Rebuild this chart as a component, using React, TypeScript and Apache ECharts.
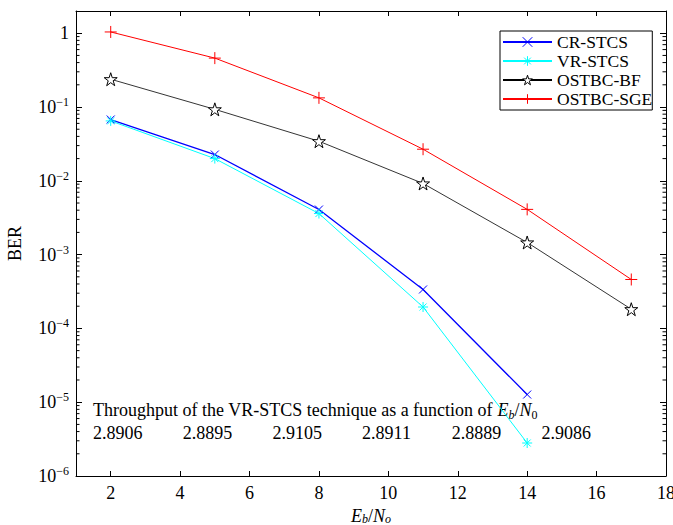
import React, { useEffect, useRef } from 'react';
import * as echarts from 'echarts';

const ebNo = [2, 5, 8, 11, 14, 17];
const crStcs = [0.0677, 0.0227, 0.00408, 3.37e-4, 1.27e-5];
const vrStcs = [0.0648, 0.02, 0.0036, 1.95e-4, 2.8e-6];
const ostbcBf = [0.238, 0.093, 0.0344, 0.0092, 0.00146, 1.82e-4];
const ostbcSge = [1.04, 0.46, 0.133, 0.0268, 0.0041, 4.6e-4];
const seriesNames = ['CR-STCS', 'VR-STCS', 'OSTBC-BF', 'OSTBC-SGE'];
const seriesColors = ['#0000ff', '#00ffff', '#000000', '#ff0000'];
const seriesFills = ['transparent', 'transparent', '#ffffff', 'transparent'];
const throughputValues = ['2.8906', '2.8895', '2.9105', '2.8911', '2.8889', '2.9086'];
const decades = [-6, -5, -4, -3, -2, -1, 0];
const minorMultipliers = [2, 3, 4, 5, 6, 7, 8, 9];

const FONT = '"Liberation Serif", "Times New Roman", serif';
const FS = 18;

const PLUS = 'path://M0,5L10,5M5,0L5,10';
const CROSS = 'path://M0,0L10,10M10,0L0,10';
const ASTERISK = 'path://M5,0L5,10M0,5L10,5M1.5,1.5L8.5,8.5M8.5,1.5L1.5,8.5';
const STAR = 'path://M10,0L12.25,6.91L19.51,6.91L13.63,11.18L15.88,18.09L10,13.82L4.12,18.09L6.37,11.18L0.49,6.91L7.75,6.91Z';

const pairs = (ys: number[]) => ys.map((y, i) => [ebNo[i], y]);

const mkSeries = (idx: number, ys: number[], symbol: string, size: number, lw: number) => ({
  name: seriesNames[idx],
  type: 'line',
  data: pairs(ys),
  symbol,
  symbolSize: size,
  showSymbol: true,
  lineStyle: { color: seriesColors[idx], width: lw },
  itemStyle: { color: seriesFills[idx], borderColor: seriesColors[idx], borderWidth: 1 },
  emphasis: { disabled: true },
  z: 3,
});

const richMath = {
  i: { fontFamily: FONT, fontStyle: 'italic', fontSize: FS, lineHeight: 22, color: '#000' },
  n: { fontFamily: FONT, fontSize: FS, lineHeight: 22, color: '#000' },
  sub: { fontFamily: FONT, fontStyle: 'italic', fontSize: 12, lineHeight: 12, verticalAlign: 'bottom', color: '#000' },
  subn: { fontFamily: FONT, fontSize: 12, lineHeight: 12, verticalAlign: 'bottom', color: '#000' },
};

const richName = {
  i: { fontFamily: FONT, fontStyle: 'italic', fontSize: FS, lineHeight: 18, color: '#000' },
  n: { fontFamily: FONT, fontSize: FS, lineHeight: 18, color: '#000' },
  sub: { fontFamily: FONT, fontStyle: 'italic', fontSize: 12, lineHeight: 10, verticalAlign: 'bottom', color: '#000' },
};

export default function App() {
  const ref = useRef<HTMLDivElement>(null);
  useEffect(() => {
    if (!ref.current) return;
    const chart = echarts.init(ref.current, undefined, { renderer: 'svg' });

    const minorTicks: number[][] = [];
    decades.forEach((k) => {
      minorMultipliers.forEach((m) => {
        const v = m * Math.pow(10, k);
        if (v < 1.99) minorTicks.push([1, v]);
      });
    });

    const yLabel = (v: number) => {
      const lg = Math.log10(v);
      const e = Math.round(lg);
      if (Math.abs(lg - e) > 1e-6) return '';
      if (e === 0) return '{b|1}';
      return '{b|10}{s|\u2212' + -e + '}';
    };

    const option: any = {
      animation: false,
      backgroundColor: '#fff',
      grid: { left: 76, right: 7, top: 11, bottom: 49, containLabel: false, outerBoundsMode: 'none' },
      legend: {
        data: seriesNames.map((n, i) => ({
          name: n,
          itemStyle: { color: seriesFills[i], borderColor: seriesColors[i], borderWidth: 1 },
        })),
        orient: 'vertical',
        left: 500,
        top: 31,
        itemWidth: 49,
        itemHeight: 12,
        itemGap: 1,
        padding: [2, 0, 2, 2],
        borderColor: '#000',
        borderWidth: 1,
        backgroundColor: '#fff',
        textStyle: { fontFamily: FONT, fontSize: 17.5, color: '#000', lineHeight: 18 },
        selectedMode: false,
      },
      xAxis: [
        {
          type: 'value',
          min: 1,
          max: 18,
          splitNumber: 8,
          name: '{i|E}{sub|b}{n|/}{i|N}{sub|o}',
          nameLocation: 'middle',
          nameGap: 29,
          nameTextStyle: { rich: richName },
          axisLine: { show: true, onZero: false, lineStyle: { color: '#000', width: 1 } },
          axisTick: { show: true, inside: true, length: 5, lineStyle: { color: '#000' } },
          axisLabel: {
            margin: 8,
            fontFamily: FONT,
            fontSize: FS,
            color: '#000',
            formatter: (v: number) => (v % 2 === 0 ? String(v) : ''),
          },
          splitLine: { show: false },
        },
        {
          type: 'value',
          position: 'top',
          min: 1,
          max: 18,
          splitNumber: 8,
          axisLine: { show: true, onZero: false, lineStyle: { color: '#000', width: 1 } },
          axisTick: { show: true, inside: true, length: 5, lineStyle: { color: '#000' } },
          axisLabel: { show: false },
          splitLine: { show: false },
        },
      ],
      yAxis: [
        {
          type: 'log',
          logBase: 10,
          min: 1e-6,
          max: 2,
          name: 'BER',
          nameLocation: 'middle',
          nameGap: 52,
          nameTextStyle: { fontFamily: FONT, fontSize: FS, color: '#000' },
          axisLine: { show: true, onZero: false, lineStyle: { color: '#000', width: 1 } },
          axisTick: { show: true, inside: true, length: 6, lineStyle: { color: '#000' } },
          axisLabel: {
            margin: 7,
            formatter: yLabel,
            rich: {
              b: { fontFamily: FONT, fontSize: FS, lineHeight: 22, color: '#000' },
              s: { fontFamily: FONT, fontSize: 12, lineHeight: 12, verticalAlign: 'top', color: '#000' },
            },
          },
          splitLine: { show: false },
        },
        {
          type: 'log',
          logBase: 10,
          position: 'right',
          min: 1e-6,
          max: 2,
          axisLine: { show: true, onZero: false, lineStyle: { color: '#000', width: 1 } },
          axisTick: { show: true, inside: true, length: 6, lineStyle: { color: '#000' } },
          axisLabel: { show: false },
          splitLine: { show: false },
        },
      ],
      series: [
        mkSeries(0, crStcs, CROSS, 8, 1.3),
        mkSeries(1, vrStcs, ASTERISK, 10, 1),
        mkSeries(2, ostbcBf, STAR, 13, 0.8),
        mkSeries(3, ostbcSge, PLUS, 12, 1),
        {
          type: 'custom',
          name: 'minorTicks',
          coordinateSystem: 'cartesian2d',
          xAxisIndex: 0,
          yAxisIndex: 0,
          data: minorTicks,
          clip: false,
          silent: true,
          z: 5,
          renderItem: (params: any, api: any) => {
            const v = api.value(1);
            const l = api.coord([1, v]);
            const r = api.coord([18, v]);
            return {
              type: 'group',
              children: [
                { type: 'line', shape: { x1: l[0], y1: l[1], x2: l[0] + 3.5, y2: l[1] }, style: { stroke: '#000', lineWidth: 1 } },
                { type: 'line', shape: { x1: r[0], y1: r[1], x2: r[0] - 3.5, y2: r[1] }, style: { stroke: '#000', lineWidth: 1 } },
              ],
            };
          },
        },
      ],
      graphic: [
        {
          type: 'text',
          left: 93,
          top: 401,
          style: {
            text: '{n|' + 'Throughput of the VR-STCS technique as a function of ' + '}{i|E}{sub|b}{n|/}{i|N}{subn|0}',
            rich: richMath,
          },
        },
        ...throughputValues.map((t, i) => ({
          type: 'text',
          left: 93 + i * 89.7,
          top: 424,
          style: { text: t, fontFamily: FONT, fontSize: FS, fill: '#000' },
        })),
      ],
    };
    chart.setOption(option);
    return () => chart.dispose();
  }, []);
  return (
    <div
      ref={ref}
      style={{ position: 'fixed', left: 0, top: 0, width: 673, height: 525, background: '#fff' }}
    />
  );
}
